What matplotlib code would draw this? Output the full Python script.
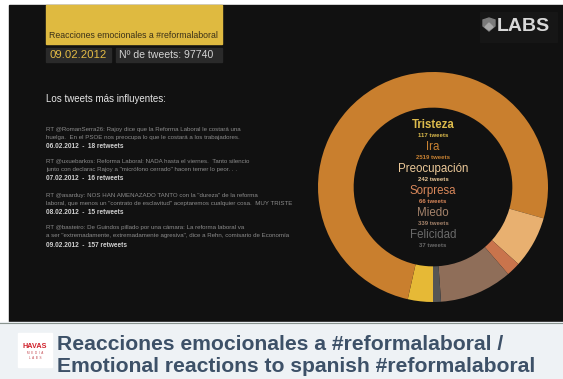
import matplotlib.pyplot as plt
from matplotlib.patches import Rectangle, Polygon

plt.rcParams['font.family'] = ['Liberation Sans', 'DejaVu Sans']

# emotion counts shown in the donut
emotions = ['Tristeza', 'Ira', 'Preocupación', 'Sorpresa', 'Miedo', 'Felicidad']
counts = [117, 2519, 242, 66, 339, 37]
emotion_colors = ['#e6b936', '#c97f2e', '#e8b070', '#c9744c', '#8f6e59', '#555555']
label_colors = ['#dcbb4c', '#c98232', '#ecc999', '#d9875a', '#a5836b', '#6a6a6a']

total_tweets = 97740
day = '09.02.2012'

# most influential tweets
tweet_lines = [
    ['RT @RomanSerra26: Rajoy dice que la Reforma Laboral le costará una',
     'huelga.  En el PSOE nos preocupa lo que le costará a los trabajadores.'],
    ['RT @uxuebarkos: Reforma Laboral: NADA hasta el viernes.  Tanto silencio',
     'junto con declarac Rajoy a "micrófono cerrado" hacen temer lo peor. . .'],
    ['RT @asarduy: NOS HAN AMENAZADO TANTO con la "dureza" de la reforma',
     'laboral, que menos un "contrato de esclavitud" aceptaremos cualquier cosa.  MUY TRISTE'],
    ['RT @basteiro: De Guindos pillado por una cámara: La reforma laboral va',
     'a ser "extremadamente, extremadamente agresiva", dice a Rehn, comisario de Economía'],
]
tweet_dates = ['06.02.2012', '07.02.2012', '08.02.2012', '09.02.2012']
retweets = [18, 16, 15, 157]

W, H = 563, 379
fig = plt.figure(figsize=(W / 100, H / 100), dpi=100)
fig.patch.set_facecolor('white')

bg = fig.add_axes([0, 0, 1, 1])
bg.set_xlim(0, W)
bg.set_ylim(H, 0)
bg.axis('off')

# dark panel and light footer
bg.add_patch(Rectangle((9, 5), W - 9, 317, color='#111111', zorder=0))
bg.add_patch(Rectangle((0, 322), W, H - 322, color='#eef2f5', zorder=0))
bg.plot([0, W], [322.5, 322.5], color='#8a9590', lw=0.8, zorder=1)

# header boxes
bg.add_patch(Rectangle((46, 5), 176, 39, color='#dfba40', zorder=1))
bg.text(49, 38, 'Reacciones emocionales a #reformalaboral', fontsize=6.3,
        color='#3a3018', va='baseline', ha='left')
bg.add_patch(Rectangle((46, 48), 65, 14, color='#2a2a2a', zorder=1))
bg.add_patch(Rectangle((116, 48), 106, 14, color='#2a2a2a', zorder=1))
bg.text(78.5, 55.5, day, fontsize=8.2, color='#e3bb45', ha='center', va='center')
bg.text(119, 55.5, 'Nº de tweets: %d' % total_tweets, fontsize=7.6,
        color='#d4d4d4', ha='left', va='center')

# LABS badge
bg.add_patch(Rectangle((480, 12), 77, 30, color='#161616', zorder=1))
bg.add_patch(Polygon([(483, 20), (489, 18), (495, 20), (495, 26), (489, 31), (483, 26)],
                     closed=True, color='#7a7a7a', zorder=2))
bg.add_patch(Polygon([(485, 27), (489, 23), (493, 27), (489, 30)],
                     closed=True, color='#a8a8a8', zorder=3))
bg.text(497, 26.5, 'LABS', fontsize=14, fontweight='bold', color='#d8d8d8',
        ha='left', va='center')

# tweet list
bg.text(46, 99, 'Los tweets más influyentes:', fontsize=7.0, color='#e6e6e6',
        ha='left', va='center')
tweet_y = [129, 161, 195, 227.7]
for y0, lines, d, rt in zip(tweet_y, tweet_lines, tweet_dates, retweets):
    for k, line in enumerate(lines):
        bg.text(46, y0 + k * 8.3, line, fontsize=4.45, color='#8c8c8c',
                ha='left', va='center')
    bg.text(46, y0 + 17.5, '%s  -  %d retweets' % (d, rt), fontsize=4.7,
            color='#d0d0d0', fontweight='bold', ha='left', va='center')

# donut
cx, cy, R = 433, 187, 115
donut = fig.add_axes([(cx - R) / W, (H - cy - R) / H, 2 * R / W, 2 * R / H])
donut.pie(counts, colors=emotion_colors, startangle=-90, counterclock=False,
          radius=1, wedgeprops=dict(width=0.31, linewidth=0))
donut.set_xlim(-1, 1)
donut.set_ylim(-1, 1)
donut.set_aspect('equal')
donut.axis('off')

label_y = [125, 146.7, 169.3, 191, 213.3, 235.3]
for name, n, c, y in zip(emotions, counts, label_colors, label_y):
    bg.text(cx, y, name, fontsize=8.3, color=c, ha='center', va='center',
            fontweight='bold' if name == 'Tristeza' else 'normal')
    bg.text(cx, y + 10.5, '%d tweets' % n, fontsize=4.3, color=c,
            fontweight='bold', ha='center', va='center')

# footer logo and title
bg.add_patch(Rectangle((18, 333), 34, 34, color='white', zorder=1))
bg.text(35, 346, 'HAVAS', fontsize=5.2, color='#d0202a', fontweight='bold',
        ha='center', va='center')
bg.text(35, 353, 'M  E  D  I  A', fontsize=2.2, color='#c04048', ha='center', va='center')
bg.text(35, 358, 'L  A  B  S', fontsize=2.2, color='#c04048', ha='center', va='center')
bg.text(57, 350, 'Reacciones emocionales a #reformalaboral /', fontsize=15.2,
        fontweight='bold', color='#3d5168', ha='left', va='baseline')
bg.text(57, 372, 'Emotional reactions to spanish #reformalaboral', fontsize=15.2,
        fontweight='bold', color='#3d5168', ha='left', va='baseline')

fig.savefig('out.png', dpi=100, facecolor=fig.get_facecolor())
